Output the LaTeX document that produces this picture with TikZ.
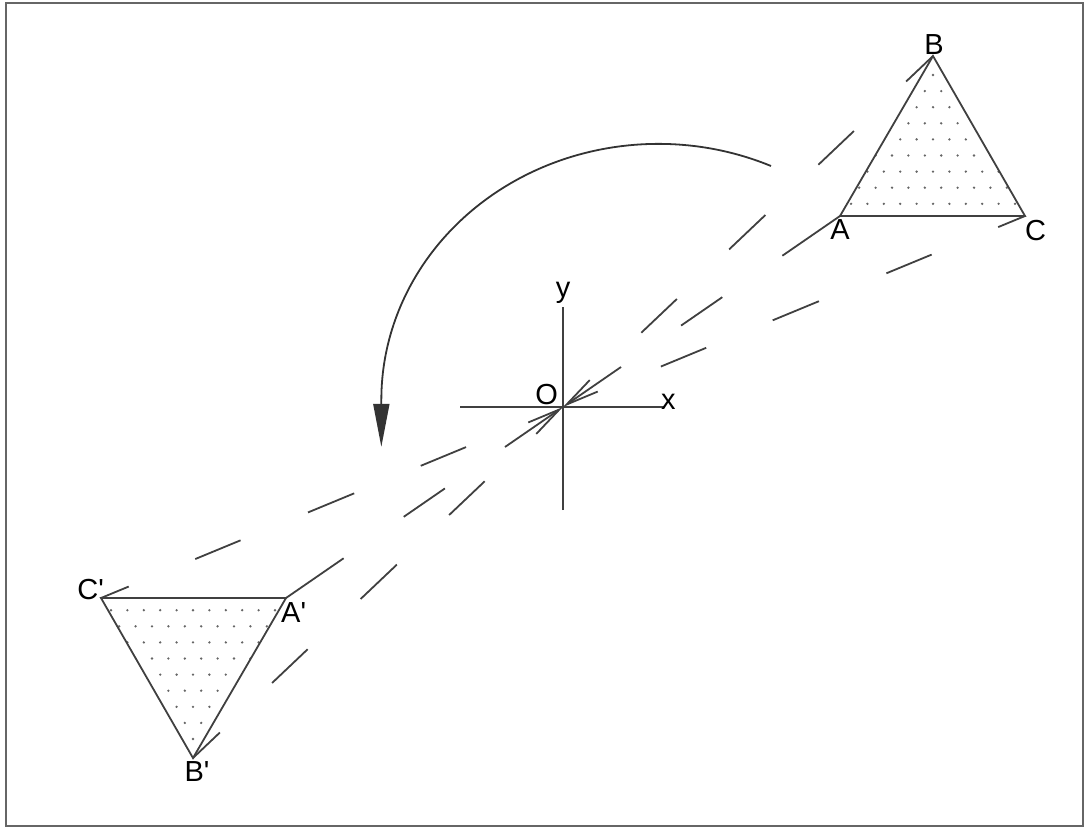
\documentclass[tikz,border=0pt]{standalone}
\usepackage{fontspec}
\setmainfont{Liberation Sans}
\usetikzlibrary{arrows.meta,calc}

\begin{document}
\begin{tikzpicture}[
  x=1pt, y=-1pt,
  font=\fontsize{29}{31}\selectfont,
  tri/.style={draw=black!75, line width=1.8pt, line join=miter},
  axisline/.style={draw=black!75, line width=1.8pt},
  ray/.style={draw=black!75, line width=1.8pt,
              dash pattern=on #1 off 72pt on 49pt off 73pt on 50pt off 72pt on 49pt off 400pt},
  raytip/.style={draw=black!75, line width=1.8pt,
                 -{Straight Barb[length=33pt,width=14pt]},
                 dash pattern=on 70pt off 73pt on 50pt off 73pt on 300pt},
  rotarrow/.style={draw=black!80, line width=1.8pt,
                   -{Triangle[length=43pt,width=16pt]}},
  lab/.style={inner sep=0pt},
  gdot/.style={fill=black!60},
  outline/.style={draw=black!60, line width=1.5pt},
]
\useasboundingbox (0,0) rectangle (1086,827);
\draw[outline] (6,3) rectangle (1083,826);

% ============ helper coordinates ============
\coordinate (O) at (563,407);
\coordinate (A) at (840,216);
\coordinate (B) at (933,56);
\coordinate (C) at (1025,216);
% images under the half turn about O
\coordinate (Ap) at ($(O)!-1!(A)$);
\coordinate (Bp) at ($(O)!-1!(B)$);
\coordinate (Cp) at ($(O)!-1!(C)$);
% axis ends
\coordinate (xl) at (460,407);
\coordinate (xr) at (665,407);
\coordinate (yt) at (563,307);
\coordinate (yb) at (563,510);

% ============ dashed rays through O ============
\draw[raytip] (A) -- (O);
\draw[raytip] (Ap) -- (O);
\draw[ray=37pt] (B) -- (O);
\draw[ray=37pt] (Bp) -- (O);
\draw[ray=29pt] (C) -- (O);
\draw[ray=30pt] (Cp) -- (O);

% ============ dotted fill of both triangles ============
\begin{scope}
  \clip (A) -- (B) -- (C) -- cycle;
  \foreach \k in {0,...,8}
    \foreach \j in {-6,...,6}
      \fill[gdot] ({933+16.4*\j+8.2*mod(\k,2)},{75+16.1*\k}) circle[radius=1.3pt];
\end{scope}
\begin{scope}[rotate around={180:(O)}]
  \clip (Ap) -- (Bp) -- (Cp) -- cycle;
  \foreach \k in {0,...,8}
    \foreach \j in {-6,...,6}
      \fill[gdot] ({933+16.4*\j+8.2*mod(\k,2)},{75+16.1*\k}) circle[radius=1.3pt];
\end{scope}

% ============ triangles ============
\draw[tri] (A) -- (B) -- (C) -- cycle;
\draw[tri] (Ap) -- (Bp) -- (Cp) -- cycle;

% ============ axes ============
\draw[axisline] (xl) -- (xr);
\draw[axisline] (yb) -- (yt);
\node[lab, anchor=base west] (labx) at ($(xr)+(-4,2)$) {x};
\node[lab, anchor=south] (laby) at ($(yt)+(0,-3)$) {y};
\node[lab, anchor=south east] (labO) at ($(O)+(-5,-2)$) {O};

% ============ vertex labels ============
\node[lab, anchor=north] (labA) at ($(A)+(0,3)$) {A};
\node[lab, anchor=south] (labB) at ($(B)+(1,-1)$) {B};
\node[lab, anchor=north west] (labC) at ($(C)+(0,4)$) {C};
\node[lab, anchor=north west] (labAp) at ($(Ap)+(-5,4)$) {A\textquotesingle};
\node[lab, anchor=north] (labBp) at ($(Bp)+(4,3)$) {B\textquotesingle};
\node[lab, anchor=south east] (labCp) at ($(Cp)+(3,2)$) {C\textquotesingle};

% ============ half-turn arrow ============
\coordinate (rs) at (771,166);
\draw[rotarrow] (rs) arc[start angle=66, end angle=180, x radius=277pt, y radius=256pt] -- ++(0,47);

\end{tikzpicture}
\end{document}
